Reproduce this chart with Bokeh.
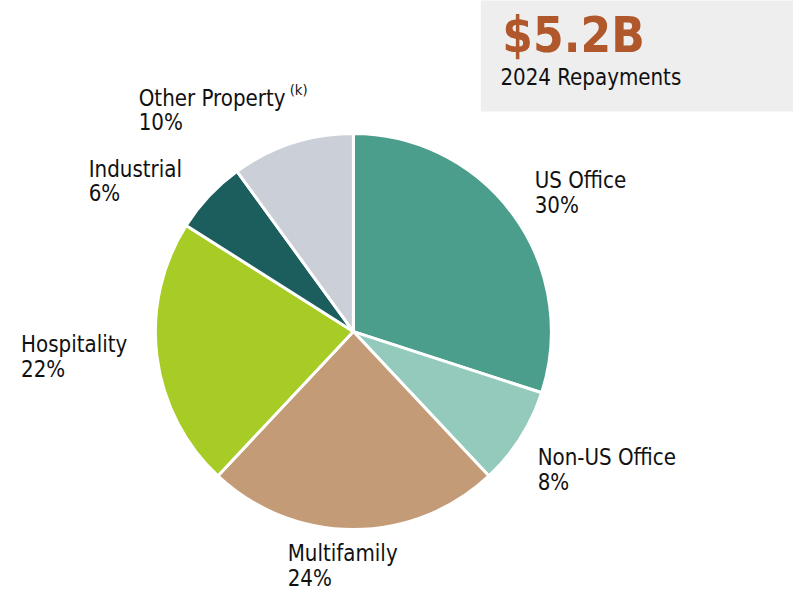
import numpy as np
import pandas as pd
from bokeh.plotting import figure
from bokeh.models import Range1d, ColumnDataSource
from bokeh.core.properties import value
from bokeh.embed import file_html
from bokeh.resources import INLINE

categories = ["US Office", "Non-US Office", "Multifamily", "Hospitality", "Industrial", "Other Property"]
shares = [30, 8, 24, 22, 6, 10]
colors = ["#4B9E8B", "#93CABC", "#C49B77", "#A8CC26", "#1B5E5D", "#CBCFD8"]
headline = "$5.2B"
subtitle = "2024 Repayments"

W, H = 793, 593
REF_W, REF_H = 809, 609
S = W / REF_W  # font scale
K = 0.37       # baseline correction (em)


def Y(yref):
    return REF_H - yref


def base(yref, size):
    # place alphabetic baseline at reference pixel row yref
    return Y(yref - K * size)


def fs(px):
    return f"{px * S:.1f}px"


p = figure(width=W, height=H, output_backend="svg", toolbar_location=None,
           x_range=Range1d(0, REF_W), y_range=Range1d(0, REF_H), min_border=0)
p.axis.visible = False
p.grid.visible = False
p.outline_line_color = None
p.background_fill_color = "white"

FONT = "DejaVu Sans Condensed"

# headline box
p.quad(left=490, right=REF_W + 10, top=Y(-10), bottom=Y(114), fill_color="#EEEEEE", line_color=None)
p.text(x=[512], y=[base(54, 50)], text=[headline], text_font=value(FONT), text_font_size=fs(50),
       text_font_style="bold", text_color="#B0572B", text_baseline="alphabetic")
p.text(x=[510], y=[base(87, 22.5)], text=[subtitle], text_font=value(FONT), text_font_size=fs(22.5),
       text_color="#111111", text_baseline="alphabetic")

# pie
df = pd.DataFrame({"cat": categories, "share": shares, "color": colors})
frac = df["share"] / df["share"].sum()
cum_end = frac.cumsum()
cum_start = cum_end - frac
df["a_start"] = np.pi / 2 - cum_end * 2 * np.pi
df["a_end"] = np.pi / 2 - cum_start * 2 * np.pi
src = ColumnDataSource(df)
p.wedge(x=360, y=Y(340), radius=202, start_angle="a_start", end_angle="a_end",
        fill_color="color", line_color="white", line_width=3, source=src)

# labels
LS = 22.5
lab_x = [545, 548, 293, 21, 90, 141]
lab_y = [193, 477, 576, 361, 181, 108]
pcts = [f"{s}%" for s in shares]
p.text(x=lab_x, y=[base(v, LS) for v in lab_y], text=categories, text_font=value(FONT),
       text_font_size=fs(LS), text_color="#111111", text_baseline="alphabetic")
p.text(x=lab_x, y=[base(v + 25.5, LS) for v in lab_y], text=pcts, text_font=value(FONT),
       text_font_size=fs(LS), text_color="#111111", text_baseline="alphabetic")
p.text(x=[295], y=[base(97, 15)], text=["(k)"], text_font=value(FONT), text_font_size=fs(15),
       text_color="#111111", text_baseline="alphabetic")

open("out.html", "w").write(file_html(p, INLINE))
